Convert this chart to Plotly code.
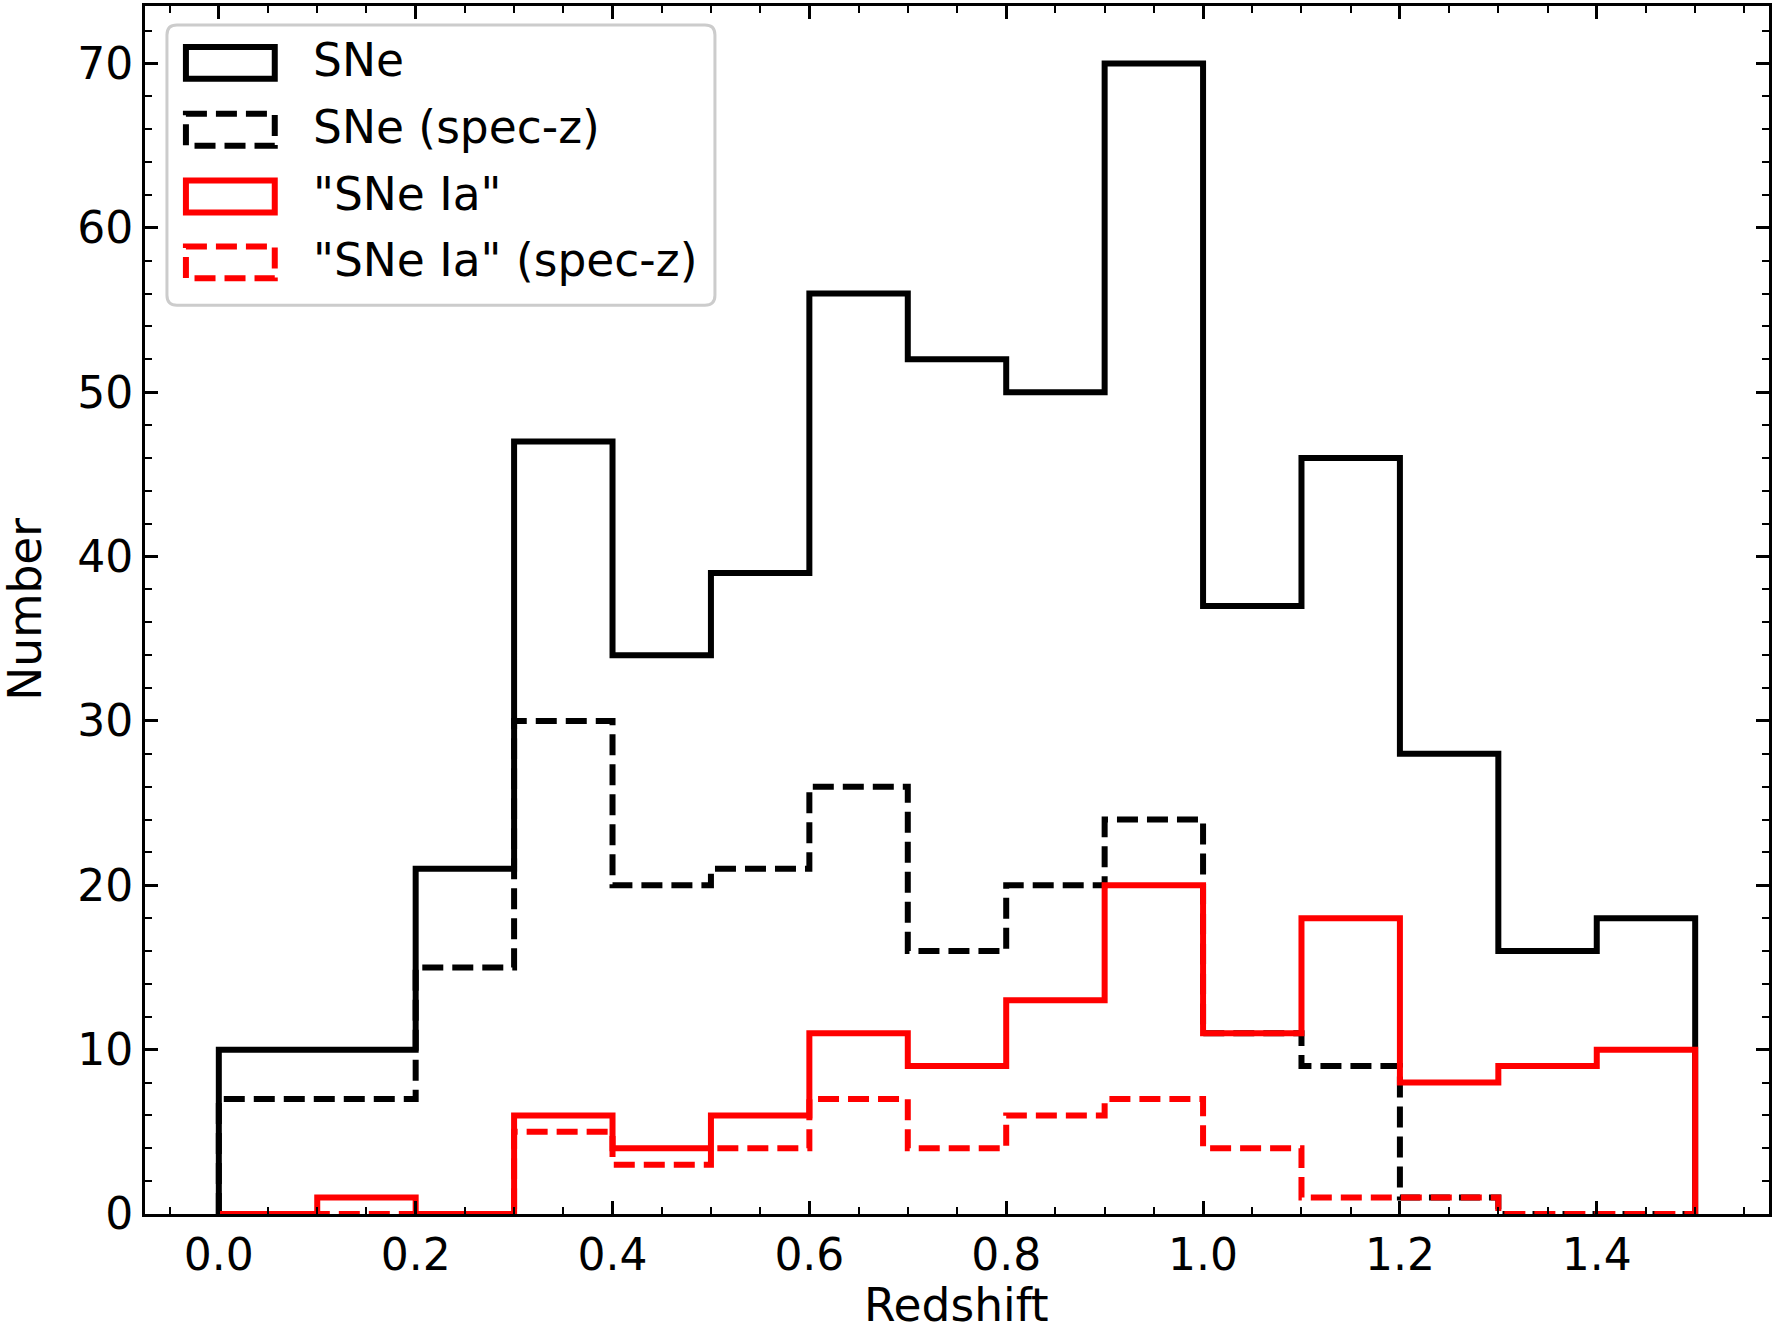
import plotly.graph_objects as go

# ---- data ----
bin_edges = [0.0, 0.1, 0.2, 0.3, 0.4, 0.5, 0.6, 0.7, 0.8, 0.9, 1.0, 1.1, 1.2, 1.3, 1.4, 1.5]
sne = [10, 10, 21, 47, 34, 39, 56, 52, 50, 70, 37, 46, 28, 16, 18]
sne_specz = [7, 7, 15, 30, 20, 21, 26, 16, 20, 24, 11, 9, 1, 0, 0]
snia = [0, 1, 0, 6, 4, 6, 11, 9, 13, 20, 11, 18, 8, 9, 10]
snia_specz = [0, 0, 0, 5, 3, 4, 7, 4, 6, 7, 4, 1, 1, 0, 0]
labels = ["SNe", "SNe (spec-z)", "\"SNe Ia\"", "\"SNe Ia\" (spec-z)"]
x_ticks = [0.0, 0.2, 0.4, 0.6, 0.8, 1.0, 1.2, 1.4]
y_ticks = [0, 10, 20, 30, 40, 50, 60, 70]

# ---- layout constants (pixels) ----
W, H = 1775, 1334
L, R, T, B = 145, 1772, 3, 1214
FONT = "DejaVu Sans"
FS = 45.5
TFS = 44
LW = 6
DASH = "21px,9px"

series = [
    (sne, "black", "solid"),
    (sne_specz, "black", DASH),
    (snia, "red", "solid"),
    (snia_specz, "red", DASH),
]


def step_xy(vals):
    xs = [bin_edges[0]] + bin_edges[:-1] + [bin_edges[-1]]
    ys = [0] + list(vals) + [0]
    return xs, ys


fig = go.Figure()
for (vals, color, dash), name in zip(series, labels):
    xs, ys = step_xy(vals)
    fig.add_trace(go.Scatter(
        x=xs, y=ys, mode="lines", name=name, showlegend=False,
        line=dict(color=color, width=LW, dash=dash, shape="hv"),
    ))

pw, ph = R - L, B - T


def px(xp):
    return (xp - L) / pw


def py(yp):
    return (B - yp) / ph


shapes = []
annotations = []

# legend frame (rounded)
lx0, lx1, ly0, ly1, rr = 167, 716, 22, 303, 10
path = (f"M {px(lx0 + rr)} {py(ly0)} L {px(lx1 - rr)} {py(ly0)} "
        f"Q {px(lx1)} {py(ly0)} {px(lx1)} {py(ly0 + rr)} "
        f"L {px(lx1)} {py(ly1 - rr)} Q {px(lx1)} {py(ly1)} {px(lx1 - rr)} {py(ly1)} "
        f"L {px(lx0 + rr)} {py(ly1)} Q {px(lx0)} {py(ly1)} {px(lx0)} {py(ly1 - rr)} "
        f"L {px(lx0)} {py(ly0 + rr)} Q {px(lx0)} {py(ly0)} {px(lx0 + rr)} {py(ly0)} Z")
shapes.append(dict(type="path", xref="paper", yref="paper", path=path,
                   fillcolor="rgba(255,255,255,0.8)",
                   line=dict(color="rgb(204,204,204)", width=3), layer="above"))

centers = [60, 127, 194, 260]
for (vals, color, dash), name, cy in zip(series, labels, centers):
    shapes.append(dict(type="rect", xref="paper", yref="paper",
                       x0=px(186), x1=px(275), y0=py(cy - 16), y1=py(cy + 16),
                       line=dict(color=color, width=LW, dash=dash),
                       fillcolor="rgba(0,0,0,0)", layer="above"))
    annotations.append(dict(x=px(311), y=py(cy - 2), xref="paper", yref="paper",
                            text=name, showarrow=False, xanchor="left", yanchor="middle",
                            font=dict(family=FONT, size=FS, color="black")))

annotations.append(dict(x=px(958), y=py(1333), xref="paper", yref="paper",
                        text="Redshift", showarrow=False, xanchor="center", yanchor="bottom",
                        borderpad=0,
                        font=dict(family=FONT, size=FS, color="black")))
annotations.append(dict(x=px(25), y=py(608), xref="paper", yref="paper",
                        text="Number", showarrow=False, xanchor="center", yanchor="middle",
                        textangle=-90, font=dict(family=FONT, size=FS, color="black")))

axis_common = dict(
    showgrid=False, zeroline=False, showline=True, linecolor="black", linewidth=3,
    mirror="allticks", ticks="inside", ticklen=13, tickwidth=3, tickcolor="black",
    tickfont=dict(family=FONT, size=TFS, color="black"),
)

fig.update_layout(
    width=W, height=H,
    margin=dict(l=L, r=W - R, t=T, b=H - B, pad=0),
    paper_bgcolor="white", plot_bgcolor="white",
    shapes=shapes, annotations=annotations, showlegend=False,
    xaxis=dict(range=[-0.075, 1.575], tickvals=x_ticks,
               ticktext=[f"{v:.1f}" for v in x_ticks],
               minor=dict(dtick=0.05, tick0=0, ticks="inside", ticklen=7, tickwidth=2.3,
                          tickcolor="black", showgrid=False),
               **axis_common),
    yaxis=dict(range=[0, 73.5], tickvals=y_ticks, ticktext=[str(v) for v in y_ticks],
               minor=dict(dtick=2, tick0=0, ticks="inside", ticklen=7, tickwidth=2.3,
                          tickcolor="black", showgrid=False),
               **axis_common),
)

fig.write_html("out.html")
